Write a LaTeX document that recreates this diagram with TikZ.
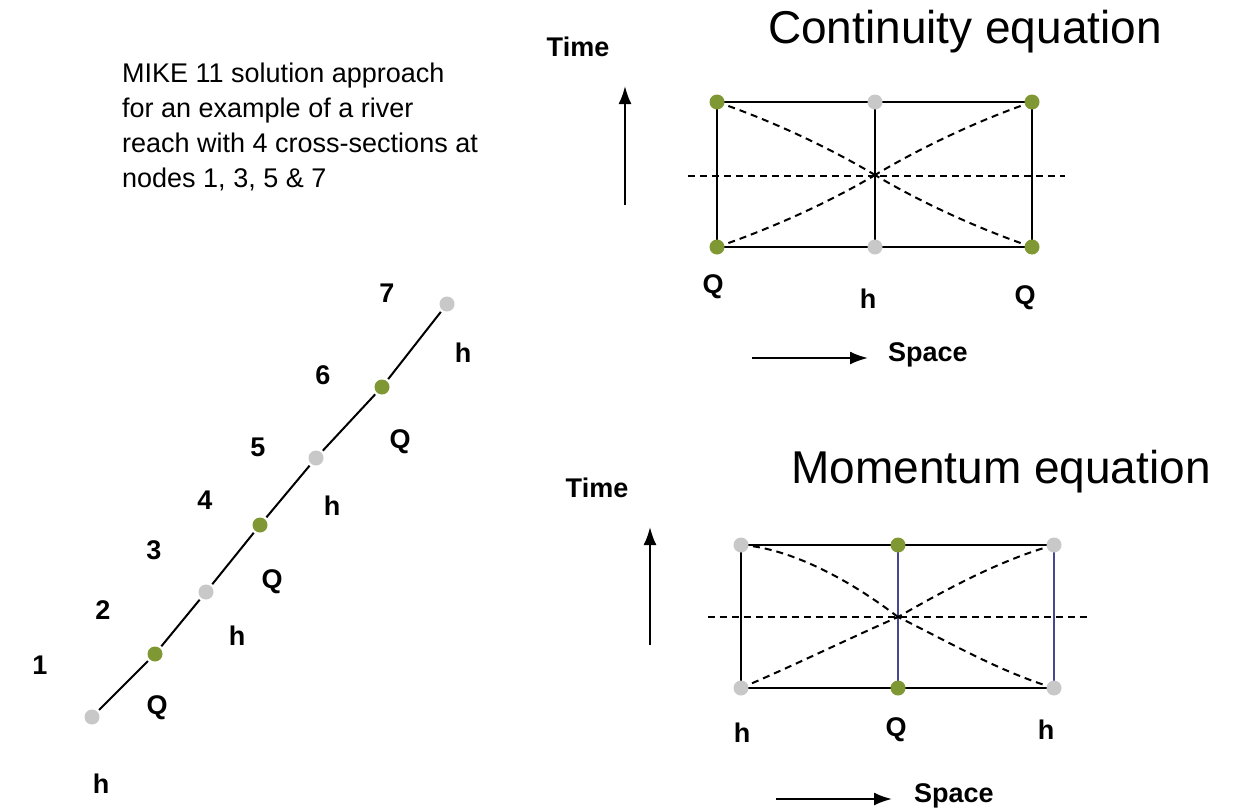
\documentclass[tikz,border=0pt]{standalone}
\usepackage{fontspec}
\setmainfont{Liberation Sans}
\usetikzlibrary{arrows.meta}
\definecolor{dotgreen}{RGB}{128,152,52}
\definecolor{dotgray}{RGB}{200,200,200}
\definecolor{gridblue}{RGB}{70,70,150}
\begin{document}
\begin{tikzpicture}[x=1pt,y=-1pt,
  lbl/.style={font=\fontsize{27}{27}\selectfont\bfseries, inner sep=0},
  title/.style={font=\fontsize{46}{46}\selectfont, inner sep=0},
  gdot/.style={circle, fill=dotgreen, minimum size=15pt, inner sep=0, outer sep=2.5pt},
  hdot/.style={circle, fill=dotgray, minimum size=15pt, inner sep=0, outer sep=2.5pt},
  gline/.style={line width=2.3pt},
  dline/.style={line width=2pt, dash pattern=on 7pt off 5pt},
  axarrow/.style={line width=2.2pt, -{Latex[length=18pt,width=13pt]}}]
\useasboundingbox (0,0) rectangle (1239,811);
\fill[white] (0,0) rectangle (1239,811);

% ---------- description ----------
\node[anchor=north west, align=left, inner sep=0,
      font=\fontsize{27}{35}\selectfont] (desc) at (122,63)
  {MIKE 11 solution approach\\for an example of a river\\reach with 4 cross-sections at\\nodes 1, 3, 5 \& 7};

% ---------- river reach ----------
\node[hdot] (n1) at (92,717) {};
\node[gdot] (n2) at (155,654) {};
\node[hdot] (n3) at (206,592) {};
\node[gdot] (n4) at (260,525) {};
\node[hdot] (n5) at (316,458) {};
\node[gdot] (n6) at (382,387) {};
\node[hdot] (n7) at (447,304) {};
\draw[line width=2pt] (n1) -- (n2);
\draw[line width=2pt] (n2) -- (n3);
\draw[line width=2pt] (n3) -- (n4);
\draw[line width=2pt] (n4) -- (n5);
\draw[line width=2pt] (n5) -- (n6);
\draw[line width=2pt] (n6) -- (n7);

\node[lbl] (l1) at (40,665) {1};
\node[lbl] (l2) at (103,610) {2};
\node[lbl] (l3) at (154,550) {3};
\node[lbl] (l4) at (205,500) {4};
\node[lbl] (l5) at (258,447) {5};
\node[lbl] (l6) at (323,375) {6};
\node[lbl] (l7) at (387,293) {7};
\node[lbl] (v1) at (101,784) {h};
\node[lbl] (v2) at (157,708) {Q};
\node[lbl] (v3) at (237,636) {h};
\node[lbl] (v4) at (272,582) {Q};
\node[lbl] (v5) at (332,506) {h};
\node[lbl] (v6) at (400,442) {Q};
\node[lbl] (v7) at (463,353) {h};

% ---------- continuity equation ----------
\node[title] (ctitle) at (965,32) {Continuity equation};
\node[lbl] (ctime) at (578,47) {Time};
\coordinate (ctb) at (625,205);
\coordinate (ctt) at (625,86);
\draw[axarrow] (ctb) -- (ctt);
\coordinate (csa) at (752,358);
\coordinate (csb) at (868,358);
\draw[axarrow] (csa) -- (csb);
\node[lbl, anchor=west] (cspace) at (888,355) {Space};

\coordinate (cTL) at (717,102);
\coordinate (cTM) at (875,102);
\coordinate (cTR) at (1032,102);
\coordinate (cBL) at (717,247);
\coordinate (cBM) at (875,247);
\coordinate (cBR) at (1032,247);
\coordinate (cC)  at (875,175);
\coordinate (cHL) at (688,176);
\coordinate (cHR) at (1065,176);
\draw[gline] (cTL) -- (cTR) -- (cBR) -- (cBL) -- cycle;
\draw[gline] (cTM) -- (cBM);
\draw[dline] (cHL) -- (cHR);
\draw[dline] (cTL) .. controls (770,120) and (830,148) .. (cC);
\draw[dline] (cTR) .. controls (979,120) and (920,148) .. (cC);
\draw[dline] (cBL) .. controls (770,229) and (830,202) .. (cC);
\draw[dline] (cBR) .. controls (979,229) and (920,202) .. (cC);
\node[gdot] (cdTL) at (cTL) {};
\node[hdot] (cdTM) at (cTM) {};
\node[gdot] (cdTR) at (cTR) {};
\node[gdot] (cdBL) at (cBL) {};
\node[hdot] (cdBM) at (cBM) {};
\node[gdot] (cdBR) at (cBR) {};
\node[lbl] (cq1) at (713,287) {Q};
\node[lbl] (ch)  at (868,299) {h};
\node[lbl] (cq2) at (1025,298) {Q};

% ---------- momentum equation ----------
\node[title] (mtitle) at (1001,472) {Momentum equation};
\node[lbl] (mtime) at (597,488) {Time};
\coordinate (mtb) at (650,645);
\coordinate (mtt) at (650,527);
\draw[axarrow] (mtb) -- (mtt);
\coordinate (msa) at (776,799);
\coordinate (msb) at (892,799);
\draw[axarrow] (msa) -- (msb);
\node[lbl, anchor=west] (mspace) at (914,796) {Space};

\coordinate (mTL) at (741,545);
\coordinate (mTM) at (898,545);
\coordinate (mTR) at (1054,545);
\coordinate (mBL) at (741,688);
\coordinate (mBM) at (898,688);
\coordinate (mBR) at (1054,688);
\coordinate (mC)  at (898,617);
\coordinate (mHL) at (708,617);
\coordinate (mHR) at (1090,617);
\draw[gline] (mTR) -- (mTL) -- (mBL) -- (mBR);
\draw[gline, gridblue] (mTM) -- (mBM);
\draw[gline, gridblue] (mTR) -- (mBR);
\draw[dline] (mHL) -- (mHR);
\draw[dline] (mTL) .. controls (790,548) and (850,580) .. (mC);
\draw[dline] (mTR) .. controls (1000,560) and (945,590) .. (mC);
\draw[dline] (mBL) .. controls (795,665) and (850,638) .. (mC);
\draw[dline] (mBR) .. controls (1000,672) and (945,640) .. (mC);
\node[hdot] (mdTL) at (mTL) {};
\node[gdot] (mdTM) at (mTM) {};
\node[hdot] (mdTR) at (mTR) {};
\node[hdot] (mdBL) at (mBL) {};
\node[gdot] (mdBM) at (mBM) {};
\node[hdot] (mdBR) at (mBR) {};
\node[lbl] (mh1) at (742,733) {h};
\node[lbl] (mq)  at (896,730) {Q};
\node[lbl] (mh2) at (1046,730) {h};
\end{tikzpicture}
\end{document}
